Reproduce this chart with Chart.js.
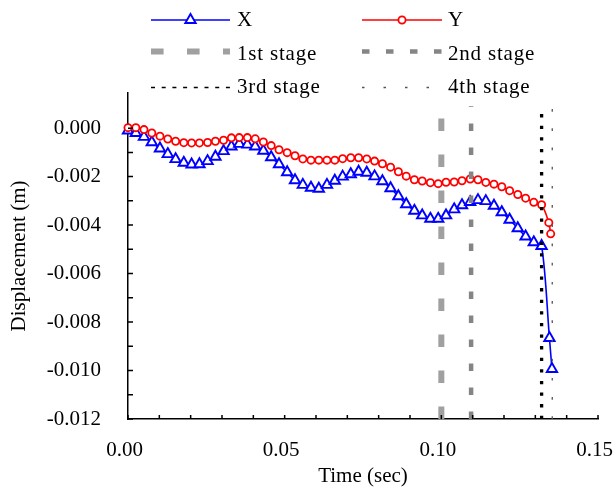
<!DOCTYPE html>
<html>
<head>
<meta charset="utf-8">
<script src="https://cdn.jsdelivr.net/npm/chart.js@4/dist/chart.umd.min.js"></script>
<style>
  html, body { margin: 0; padding: 0; background: #fff; }
  canvas { display: block; }
</style>
</head>
<body>
<canvas id="dispChart" width="616" height="492"></canvas>
<script>
// sample times (sec)
const times = [
  0, 0.0025, 0.0051, 0.0076, 0.0102, 0.0127, 0.0152, 0.0178, 0.0203, 0.0228,
  0.0254, 0.0279, 0.0305, 0.0330, 0.0355, 0.0381, 0.0406, 0.0432, 0.0457, 0.0482,
  0.0508, 0.0533, 0.0558, 0.0584, 0.0609, 0.0635, 0.0660, 0.0685, 0.0711, 0.0736,
  0.0762, 0.0787, 0.0812, 0.0838, 0.0863, 0.0888, 0.0914, 0.0939, 0.0965, 0.0990,
  0.1015, 0.1041, 0.1066, 0.1092, 0.1117, 0.1142, 0.1168, 0.1193, 0.1218, 0.1244,
  0.1269, 0.1295, 0.1320,
];
// displacement X (m)
const dispX = [
  -0.0001, -0.0002, -0.00036, -0.00058, -0.00084, -0.00107, -0.00128, -0.00143, -0.0015, -0.00149,
  -0.00136, -0.00118, -0.00095, -0.00076, -0.00065, -0.00068, -0.00076, -0.00093, -0.0012, -0.00149,
  -0.00182, -0.00215, -0.00234, -0.00246, -0.0025, -0.00234, -0.00217, -0.002, -0.0019, -0.0018,
  -0.00184, -0.00199, -0.00219, -0.00248, -0.00281, -0.00314, -0.00341, -0.0036, -0.00374, -0.00374,
  -0.0036, -0.00335, -0.00318, -0.00305, -0.00297, -0.00301, -0.0032, -0.00347, -0.00378, -0.00413,
  -0.00447, -0.00471, -0.00486,
];
// displacement Y (m)
const dispY = [
  0.00002, 0.00002, -0.00006, -0.0002, -0.00033, -0.00045, -0.00054, -0.0006, -0.00061, -0.00061,
  -0.00059, -0.00054, -0.0005, -0.0004, -0.00039, -0.00039, -0.00044, -0.00057, -0.00072, -0.00089,
  -0.00101, -0.00114, -0.00127, -0.00132, -0.00132, -0.00132, -0.00132, -0.00126, -0.00122, -0.00122,
  -0.00127, -0.00136, -0.00147, -0.00161, -0.0018, -0.00198, -0.00213, -0.00218, -0.00225, -0.00229,
  -0.00223, -0.00222, -0.00217, -0.0021, -0.00213, -0.00224, -0.00231, -0.00242, -0.00258, -0.00274,
  -0.00289, -0.00306, -0.00316,
];
// last samples after the regular ones
const tailTimesX = [0.1345, 0.1353];
const tailX = [-0.00866, -0.00994];
const tailTimesY = [0.1343, 0.1349];
const tailY = [-0.0039, -0.00436];

// stage markers
const stageLabels = ['1st stage', '2nd stage', '3rd stage', '4th stage'];
const stageTimes = [0.1, 0.1095, 0.132, 0.1354];
const stageBottom = -0.012;
const stageTop = 0.0009;

// axis ticks
const xTickLabels = [0, 0.05, 0.1, 0.15];
const yTickLabels = [0, -0.002, -0.004, -0.006, -0.008, -0.010, -0.012];
const xTickMarks = [0, 0.01, 0.02, 0.03, 0.04, 0.05, 0.06, 0.07, 0.08, 0.09, 0.1, 0.11, 0.12, 0.13, 0.14, 0.15];
const yTickMarks = [0, -0.001, -0.002, -0.003, -0.004, -0.005, -0.006, -0.007, -0.008, -0.009, -0.010, -0.011, -0.012];

const FONT = "'Liberation Serif', 'Times New Roman', serif";

const toPoints = (ts, vs) => ts.map((t, i) => ({ x: t, y: vs[i] }));

const stageStyles = [
  { color: '#a0a0a0', width: 6, dash: [12.6, 23.4] },
  { color: '#858585', width: 4.5, dash: [7.5, 16.5] },
  { color: '#000000', width: 3.3, dash: [3.3, 8.3], legendWidth: 1.6, legendDash: [4, 6.7] },
  { color: '#555555', width: 1.3, dash: [2.7, 16.5], legendDash: [2.5, 19] },
];

const stageSets = stageLabels.map((label, i) => ({
  label,
  data: [{ x: stageTimes[i], y: stageBottom }, { x: stageTimes[i], y: stageTop }],
  borderColor: stageStyles[i].color,
  borderWidth: stageStyles[i].width,
  borderDash: stageStyles[i].dash,
  borderCapStyle: 'butt',
  legendWidth: stageStyles[i].legendWidth,
  legendDash: stageStyles[i].legendDash,
  pointRadius: 0,
  tension: 0,
  clip: false,
  order: 0,
}));

// legend laid out in two columns
const legendBox = {
  id: 'legendBox',
  afterDraw(chart) {
    const { ctx } = chart;
    const lineX = [[151, 230], [362, 442]];
    const textX = [237, 448];
    const lineY = [20, 51.5, 87.5];
    const textY = [20, 54, 87.5];
    ctx.save();
    chart.data.datasets.forEach((ds, i) => {
      const col = i % 2;
      const row = Math.floor(i / 2);
      const [x0, x1] = lineX[col];
      const y = lineY[row];
      ctx.strokeStyle = ds.borderColor;
      ctx.lineWidth = ds.legendWidth || ds.borderWidth;
      ctx.setLineDash(ds.legendDash || ds.borderDash || []);
      ctx.lineCap = 'butt';
      ctx.beginPath();
      ctx.moveTo(x0, y);
      ctx.lineTo(x1, y);
      ctx.stroke();
      ctx.setLineDash([]);
      if (ds.pointRadius > 0) {
        const cx = (x0 + x1) / 2;
        const r = ds.pointRadius;
        ctx.fillStyle = ds.pointBackgroundColor;
        ctx.strokeStyle = ds.pointBorderColor;
        ctx.lineWidth = ds.pointBorderWidth;
        ctx.beginPath();
        if (ds.pointStyle === 'triangle') {
          ctx.moveTo(cx, y - r);
          ctx.lineTo(cx + r * 0.866, y + r / 2);
          ctx.lineTo(cx - r * 0.866, y + r / 2);
          ctx.closePath();
        } else {
          ctx.arc(cx, y, r, 0, Math.PI * 2);
        }
        ctx.fill();
        ctx.stroke();
      }
      ctx.fillStyle = '#000';
      ctx.font = '21px ' + FONT;
      ctx.letterSpacing = '0.8px';
      ctx.textBaseline = 'middle';
      ctx.textAlign = 'left';
      ctx.fillText(ds.label, textX[col], textY[row]);
    });
    ctx.restore();
  },
};

// tick marks pointing into the plot
const innerTicks = {
  id: 'innerTicks',
  afterDraw(chart) {
    const { ctx, chartArea, scales: { x, y } } = chart;
    ctx.save();
    ctx.strokeStyle = '#000';
    ctx.lineWidth = 1.5;
    ctx.beginPath();
    xTickMarks.forEach(v => {
      const px = x.getPixelForValue(v);
      ctx.moveTo(px, chartArea.bottom);
      ctx.lineTo(px, chartArea.bottom - 4);
    });
    yTickMarks.forEach(v => {
      const py = y.getPixelForValue(v);
      ctx.moveTo(chartArea.left, py);
      ctx.lineTo(chartArea.left + 5, py);
    });
    ctx.stroke();
    ctx.restore();
  },
};

new Chart(document.getElementById('dispChart').getContext('2d'), {
  type: 'line',
  data: {
    datasets: [
      {
        label: 'X',
        data: toPoints(times, dispX).concat(toPoints(tailTimesX, tailX)),
        borderColor: '#0000ff',
        borderWidth: 1.6,
        pointStyle: 'triangle',
        pointRadius: 6,
        pointBorderWidth: 1.9,
        pointBorderColor: '#0000ff',
        pointBackgroundColor: '#ffffff',
        tension: 0.3,
        clip: false,
        order: 2,
      },
      {
        label: 'Y',
        data: toPoints(times, dispY).concat(toPoints(tailTimesY, tailY)),
        borderColor: '#ff0000',
        borderWidth: 1.6,
        pointStyle: 'circle',
        pointRadius: 3.6,
        pointBorderWidth: 1.8,
        pointBorderColor: '#ff0000',
        pointBackgroundColor: '#ffffff',
        tension: 0.3,
        clip: false,
        order: 1,
      },
      ...stageSets,
    ],
  },
  options: {
    responsive: false,
    animation: false,
    layout: {
      padding: { top: 93, right: 18, bottom: 0, left: 0 },
    },
    plugins: {
      legend: { display: false },
      tooltip: { enabled: false },
    },
    scales: {
      x: {
        type: 'linear',
        min: 0,
        max: 0.15,
        afterBuildTicks: (scale) => { scale.ticks = xTickLabels.map(v => ({ value: v })); },
        afterFit: (scale) => {
          scale.height = 73;
          scale.paddingLeft = 0;
          scale.paddingRight = 0;
        },
        grid: { display: false, drawTicks: false },
        border: { display: true, color: '#000', width: 1.5 },
        ticks: {
          padding: 19,
          labelOffset: -3.5,
          color: '#000',
          font: { family: FONT, size: 21 },
          maxRotation: 0,
          autoSkip: false,
          callback: (v) => Number(v).toFixed(2),
        },
        title: {
          display: true,
          text: 'Time (sec)',
          color: '#000',
          font: { family: FONT, size: 21 },
          padding: { top: 0, bottom: 3.4 },
        },
      },
      y: {
        type: 'linear',
        min: -0.012,
        max: 0.00145,
        afterBuildTicks: (scale) => { scale.ticks = yTickLabels.map(v => ({ value: v })); },
        afterFit: (scale) => {
          scale.width = 128;
          scale.paddingTop = 0;
          scale.paddingBottom = 0;
        },
        grid: { display: false, drawTicks: false },
        border: { display: true, color: '#000', width: 1.5 },
        ticks: {
          padding: 27,
          color: '#000',
          font: { family: FONT, size: 21 },
          autoSkip: false,
          callback: (v) => Number(v).toFixed(3),
        },
        title: {
          display: true,
          text: 'Displacement (m)',
          color: '#000',
          font: { family: FONT, size: 21 },
          padding: { top: 6.4, bottom: 0 },
        },
      },
    },
  },
  plugins: [innerTicks, legendBox],
});
</script>
</body>
</html>
